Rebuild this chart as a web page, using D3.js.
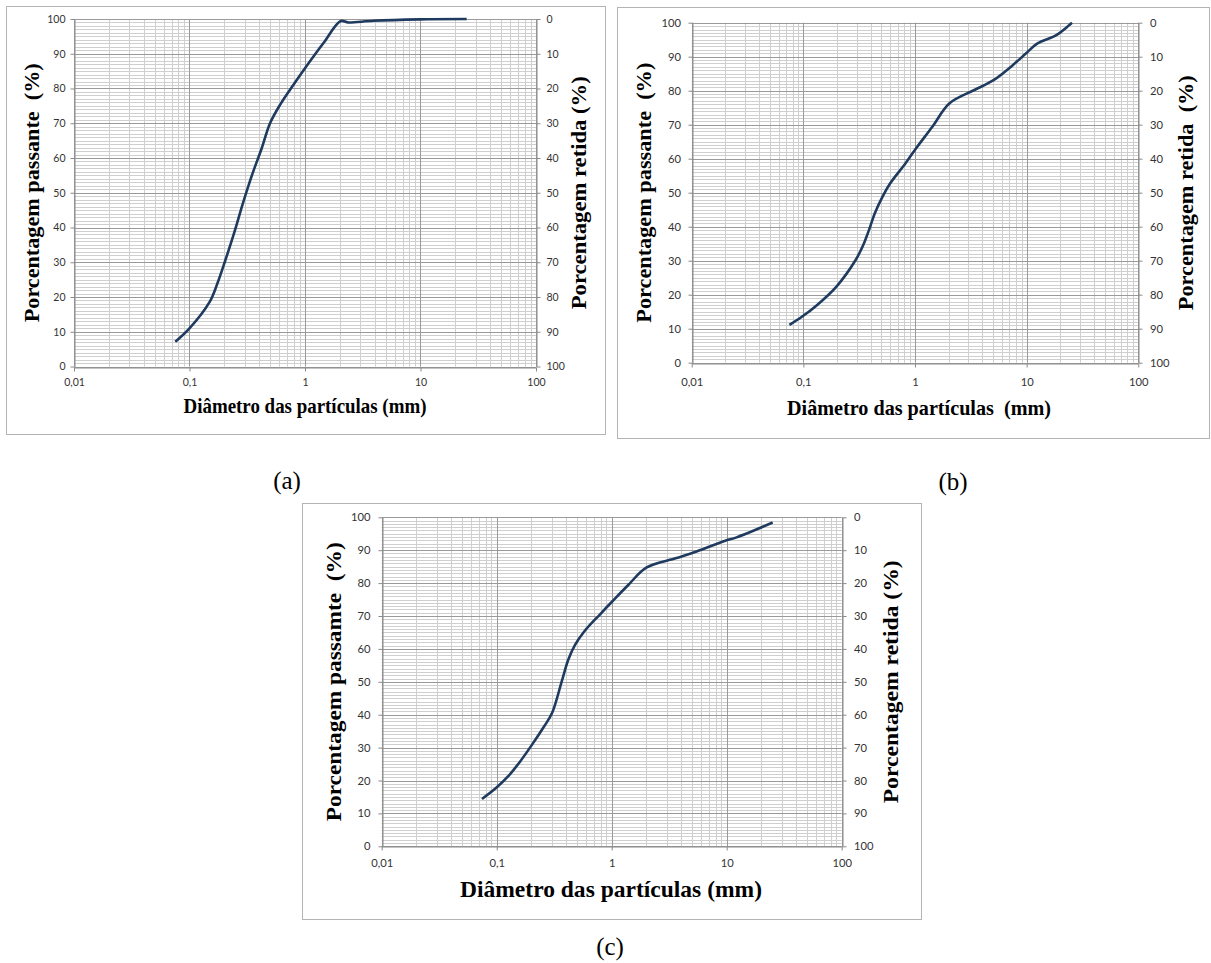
<!DOCTYPE html>
<html><head><meta charset="utf-8">
<script src="https://cdn.jsdelivr.net/npm/d3@7"></script>
<style>
html,body{margin:0;padding:0;background:#fff;}
svg{display:block;}
text{white-space:pre;}
</style></head><body>
<svg id="fig" width="1211" height="963"></svg>
<script>
// ---------- data ----------
const xTickValues = [0.01, 0.1, 1, 10, 100];
const xTickLabels = ["0,01", "0,1", "1", "10", "100"];
const yTickValues = [0, 10, 20, 30, 40, 50, 60, 70, 80, 90, 100];

const diameterA = [0.0753, 0.099, 0.149, 0.174, 0.204, 0.247, 0.289, 0.351, 0.422, 0.498, 0.608, 0.792, 1.014, 1.44, 2.04, 2.37, 3.9, 9.9, 25.1];
const passingA  = [7.1, 10.8, 18.5, 23.8, 30.5, 39.1, 46.8, 55.5, 62.8, 70.0, 75.3, 81.0, 86.1, 93.0, 99.4, 99.0, 99.5, 99.9, 100];

const diameterB = [0.075, 0.097, 0.133, 0.198, 0.294, 0.344, 0.387, 0.436, 0.511, 0.598, 0.82, 1.02, 1.43, 2.04, 3.40, 5.05, 7.5, 9.89, 12.5, 18.6, 25.5];
const passingB  = [11.1, 13.5, 17.0, 22.4, 30.2, 34.6, 39.0, 43.9, 48.8, 52.7, 58.6, 63.0, 69.4, 76.3, 80.2, 83.1, 87.5, 91.0, 93.9, 96.4, 100];

const diameterC = [0.0745, 0.0986, 0.126, 0.16, 0.203, 0.258, 0.303, 0.371, 0.419, 0.48, 0.577, 0.796, 1.01, 1.40, 2.0, 3.66, 5.47, 9.59, 12.2, 25.1];
const passingC  = [14.4, 17.7, 21.3, 25.8, 30.9, 36.4, 40.5, 50.6, 56.7, 61.2, 65.3, 70.6, 74.4, 79.5, 84.7, 87.6, 89.6, 92.8, 93.9, 98.4];

const xTitles = ["Diâmetro das partículas (mm)", "Diâmetro das partículas  (mm)", "Diâmetro das partículas (mm)"];
const leftTitles = ["Porcentagem passante  (%)", "Porcentagem passante  (%)", "Porcentagem passamte  (%)"];
const rightTitles = ["Porcentagem retida (%)", "Porcentagem retida  (%)", "Porcentagem retida (%)"];
const panelLabels = ["(a)", "(b)", "(c)"];

// ---------- layout ----------
const svg = d3.select("#fig");
svg.append("rect").attr("width", 1211).attr("height", 963).attr("fill", "#fff");

const layouts = [
  {frame:[6,6,605,434], plot:{l:74,t:19,r:536,b:366.5}, tf:10.5, padB:7, padL:5, padR:6,
   xt:{cx:305, y:413, len:243, fs:22}, lt:{x:39, len:259, fs:21}, rt:{x:586, len:233, fs:21},
   lab:{x:287, y:489}},
  {frame:[617,7,1209,437.5], plot:{l:691.7,t:22.7,r:1138.3,b:362.7}, tf:11.2, padB:11, padL:7.5, padR:7.5,
   xt:{cx:919, y:415, len:264, fs:22}, lt:{x:651, len:260, fs:21}, rt:{x:1193, len:235, fs:21},
   lab:{x:953, y:490}},
  {frame:[302,503,921,919], plot:{l:381.7,t:517.3,r:841.7,b:846.3}, tf:11.2, padB:9, padL:8, padR:7.5,
   xt:{cx:611, y:897, len:302, fs:24}, lt:{x:341, len:279, fs:22}, rt:{x:898, len:243, fs:22},
   lab:{x:610, y:955}}
];

const series = [[diameterA, passingA], [diameterB, passingB], [diameterC, passingC]];

function snap(v){ return Math.round(v) + 0.5; }

layouts.forEach((L, i) => {
  const g = svg.append("g");
  const P = L.plot;
  g.append("rect")
    .attr("x", snap(L.frame[0])).attr("y", snap(L.frame[1]))
    .attr("width", Math.round(L.frame[2]-L.frame[0])).attr("height", Math.round(L.frame[3]-L.frame[1]))
    .attr("fill", "#fff").attr("stroke", "#b4b4b4").attr("stroke-width", 1);

  const x = d3.scaleLog().domain([0.01, 100]).range([P.l, P.r]);
  const y = d3.scaleLinear().domain([0, 100]).range([P.b, P.t]);
  const yR = d3.scaleLinear().domain([100, 0]).range([P.b, P.t]);

  const yMinor = d3.range(0, 101).filter(v => v % 10 !== 0);
  const xMinor = [];
  [0.01, 0.1, 1, 10].forEach(d => { for (let k = 2; k <= 9; k++) xMinor.push(d * k); });
  const grid = g.append("g");
  grid.selectAll("line.ym").data(yMinor).join("line")
    .attr("x1", P.l).attr("x2", P.r)
    .attr("y1", d => snap(y(d))).attr("y2", d => snap(y(d)))
    .attr("stroke", "#cfcfcf").attr("stroke-width", 1);
  grid.selectAll("line.xm").data(xMinor).join("line")
    .attr("y1", P.t).attr("y2", P.b)
    .attr("x1", d => snap(x(d))).attr("x2", d => snap(x(d)))
    .attr("stroke", "#cfcfcf").attr("stroke-width", 1);
  grid.selectAll("line.yM").data(yTickValues).join("line")
    .attr("x1", P.l).attr("x2", P.r)
    .attr("y1", d => snap(y(d))).attr("y2", d => snap(y(d)))
    .attr("stroke", "#9a9a9a").attr("stroke-width", 1);
  grid.selectAll("line.xM").data(xTickValues).join("line")
    .attr("y1", P.t).attr("y2", P.b)
    .attr("x1", d => snap(x(d))).attr("x2", d => snap(x(d)))
    .attr("stroke", "#9a9a9a").attr("stroke-width", 1);

  const styleAxis = (sel) => {
    sel.select(".domain").attr("stroke", "#8a8a8a").attr("fill", "none");
    sel.selectAll(".tick line").attr("stroke", "#8a8a8a");
    sel.selectAll(".tick text").attr("fill", "#333").attr("font-family", "Lato, 'Liberation Sans', sans-serif")
      .attr("font-size", L.tf);
  };
  g.append("g").attr("transform", `translate(${snap(P.l)},0)`)
    .call(d3.axisLeft(y).tickValues(yTickValues).tickSize(4).tickSizeOuter(0).tickPadding(L.padL).tickFormat(d3.format("d")))
    .call(styleAxis);
  g.append("g").attr("transform", `translate(${snap(P.r)},0)`)
    .call(d3.axisRight(yR).tickValues(yTickValues).tickSize(4).tickSizeOuter(0).tickPadding(L.padR).tickFormat(d3.format("d")))
    .call(styleAxis);
  g.append("g").attr("transform", `translate(0,${snap(P.b)})`)
    .call(d3.axisBottom(x).tickValues(xTickValues).tickSize(4).tickSizeOuter(0).tickPadding(L.padB)
      .tickFormat((d, j) => xTickLabels[j]))
    .call(styleAxis);

  const [dia, pas] = series[i];
  const pts = dia.map((d, j) => [d, pas[j]]);
  g.append("path").datum(pts)
    .attr("fill", "none").attr("stroke", "#1f3a5f").attr("stroke-width", 2.6)
    .attr("stroke-linejoin", "round").attr("stroke-linecap", "butt")
    .attr("d", d3.line().x(d => x(d[0])).y(d => y(d[1])).curve(d3.curveCatmullRom.alpha(0.5)));

  const serif = "'Liberation Serif', 'Times New Roman', serif";
  g.append("text").text(xTitles[i])
    .attr("x", L.xt.cx).attr("y", L.xt.y).attr("text-anchor", "middle")
    .attr("font-family", serif).attr("font-weight", "bold").attr("font-size", L.xt.fs)
    .attr("textLength", L.xt.len).attr("lengthAdjust", "spacingAndGlyphs").attr("fill", "#000");
  const cy = (P.t + P.b) / 2;
  g.append("text").text(leftTitles[i])
    .attr("transform", `translate(${L.lt.x},${cy}) rotate(-90)`).attr("text-anchor", "middle")
    .attr("font-family", serif).attr("font-weight", "bold").attr("font-size", L.lt.fs)
    .attr("textLength", L.lt.len).attr("lengthAdjust", "spacingAndGlyphs").attr("fill", "#000");
  g.append("text").text(rightTitles[i])
    .attr("transform", `translate(${L.rt.x},${cy}) rotate(-90)`).attr("text-anchor", "middle")
    .attr("font-family", serif).attr("font-weight", "bold").attr("font-size", L.rt.fs)
    .attr("textLength", L.rt.len).attr("lengthAdjust", "spacingAndGlyphs").attr("fill", "#000");

  svg.append("text").text(panelLabels[i])
    .attr("x", L.lab.x).attr("y", L.lab.y).attr("text-anchor", "middle")
    .attr("font-family", serif).attr("font-size", 25).attr("fill", "#000");
});
</script>
</body></html>
